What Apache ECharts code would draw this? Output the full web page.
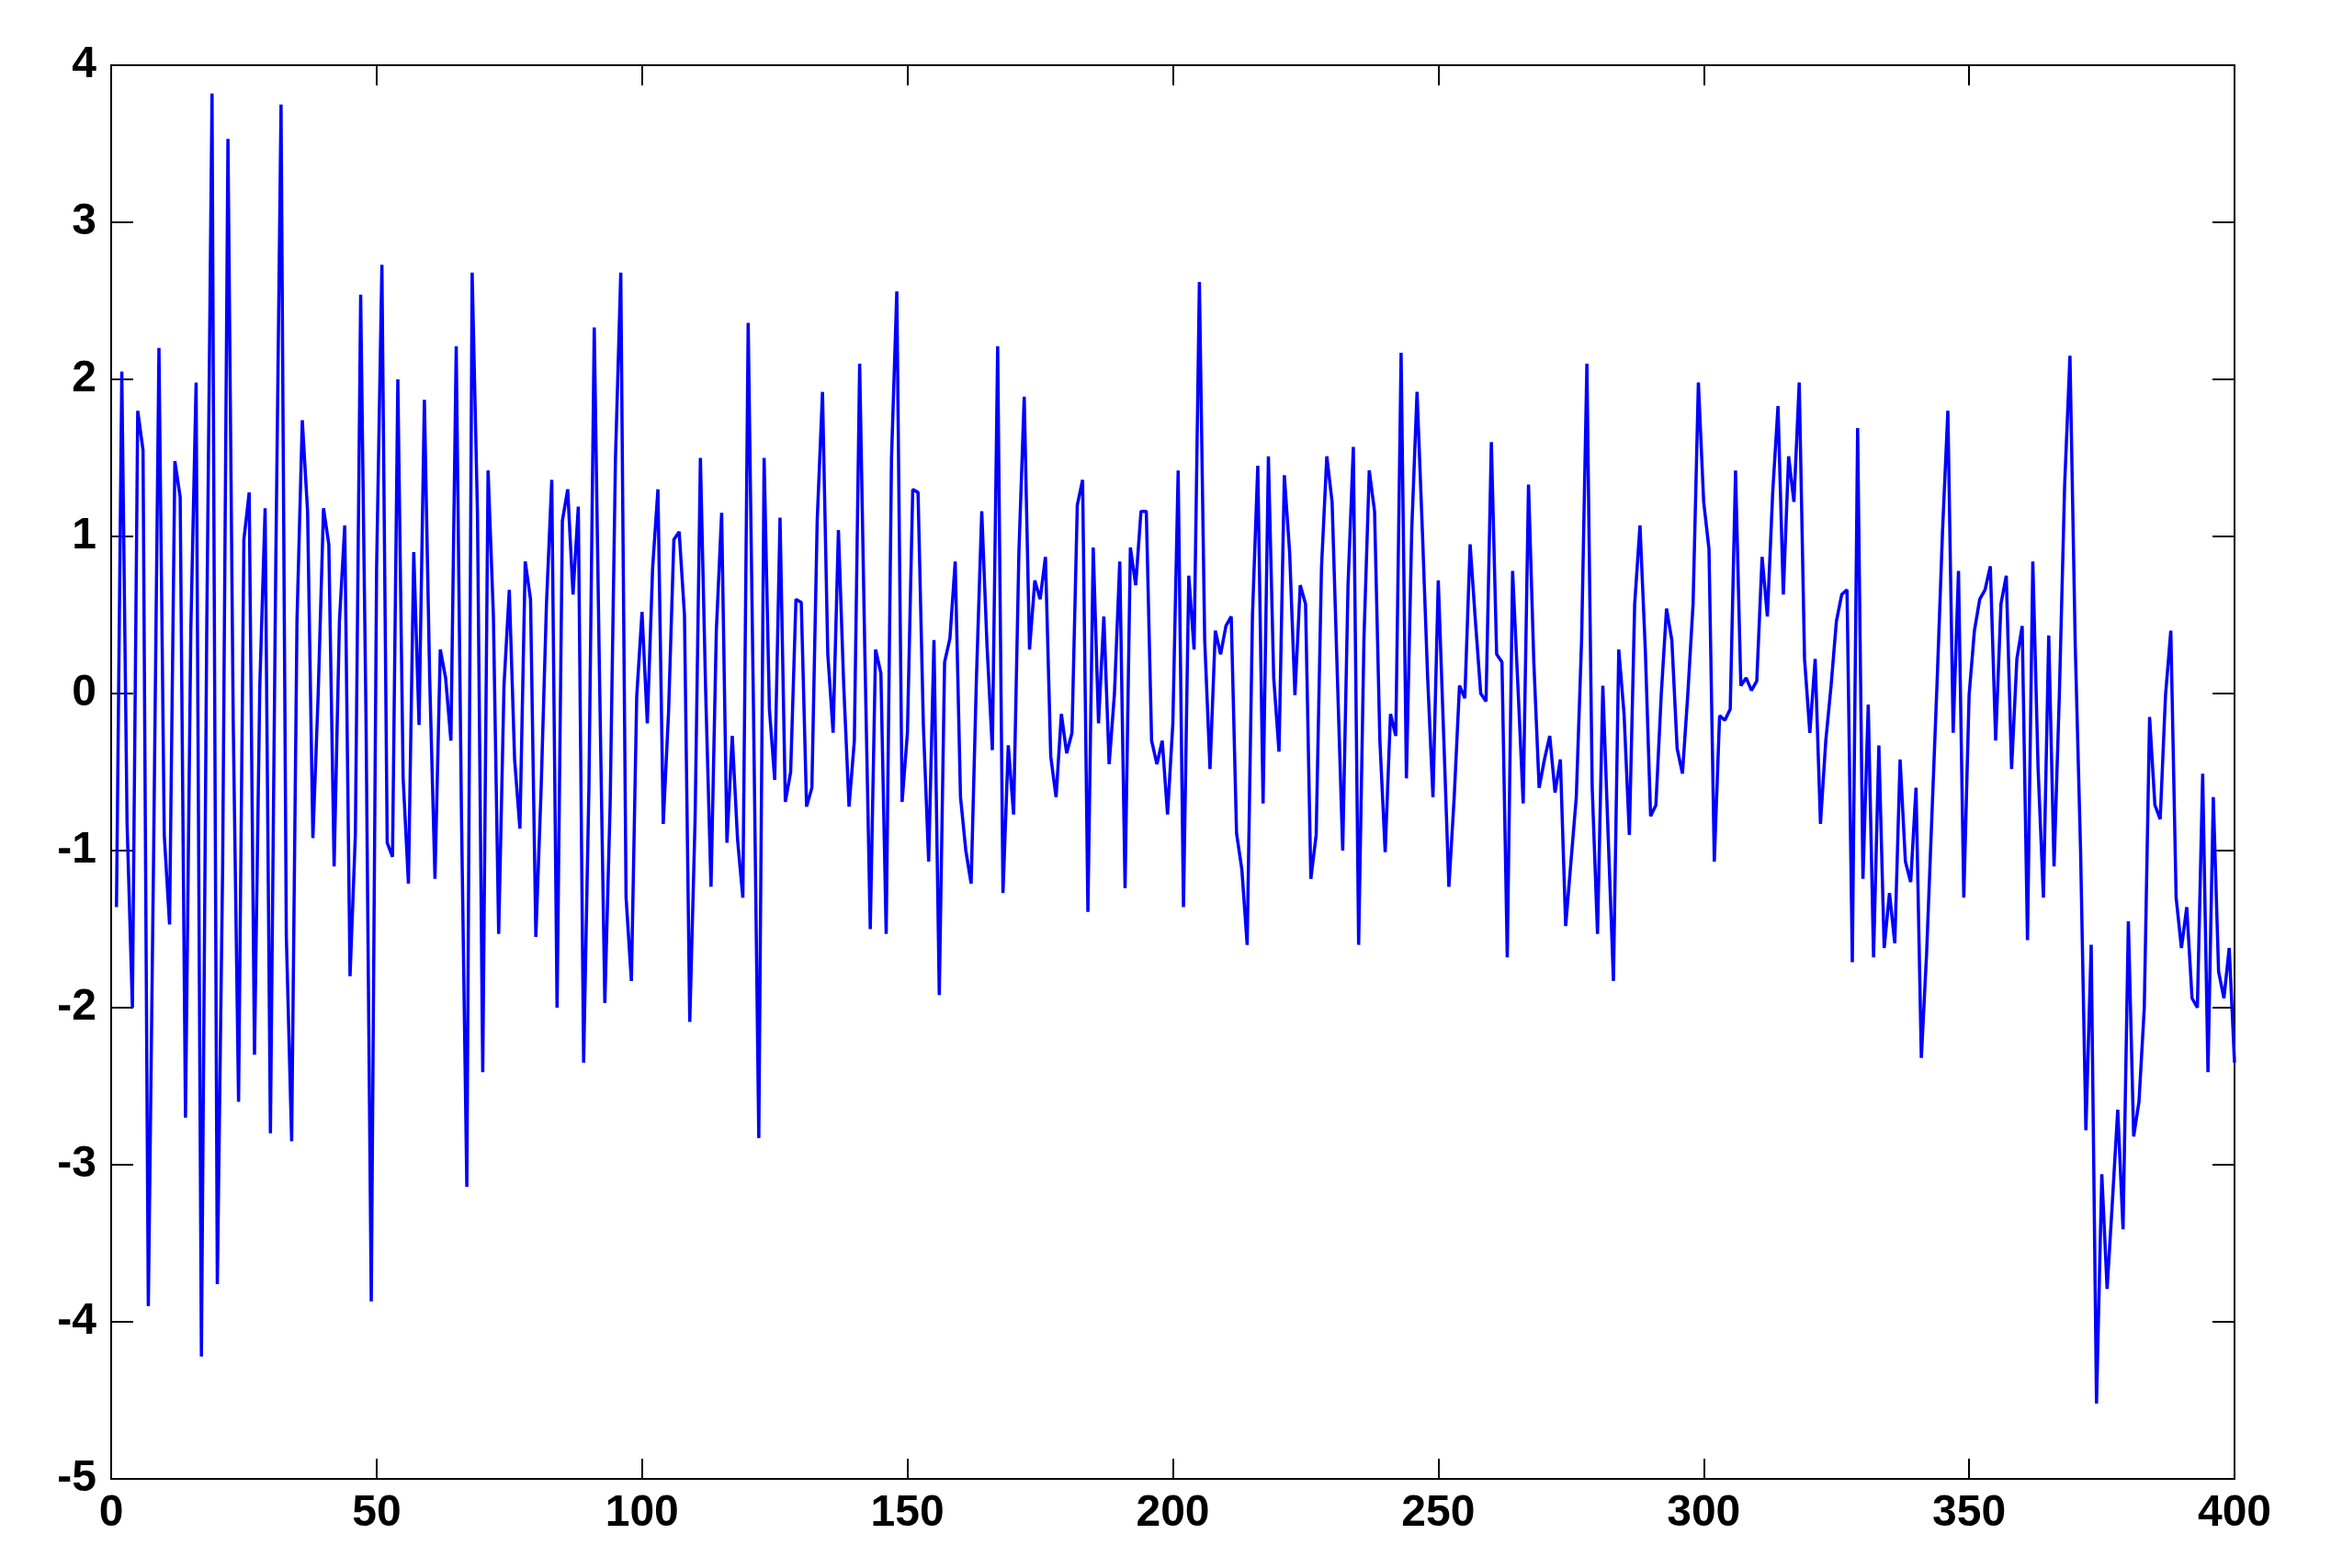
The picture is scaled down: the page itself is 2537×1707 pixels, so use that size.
<!DOCTYPE html>
<html>
<head>
<meta charset="utf-8">
<script src="https://cdn.jsdelivr.net/npm/echarts@6/dist/echarts.min.js"></script>
<style>
html,body{margin:0;padding:0;background:#fff;}
#chart{width:2537px;height:1707px;}
</style>
</head>
<body>
<div id="chart"></div>
<script>
// Series values, x = 1..400 in blocks of 50
const vals001_050 = [-1.36,2.05,-0.83,-2.0,1.8,1.55,-3.9,-1.0,2.2,-0.9,
  -1.47,1.48,1.25,-2.7,0.4,1.98,-4.22,0.4,3.82,-3.76,
  -1.1,3.53,-0.2,-2.6,0.98,1.28,-2.3,0.05,1.18,-2.8,
  0.8,3.75,-1.55,-2.85,0.46,1.74,1.16,-0.92,0.0,1.18,
  0.95,-1.1,0.46,1.07,-1.8,-0.9,2.54,-0.13,-3.87,0.8];
const vals051_100 = [2.73,-0.95,-1.04,2.0,-0.54,-1.21,0.9,-0.2,1.87,0.1,
  -1.18,0.28,0.1,-0.3,2.21,-0.8,-3.14,2.68,1.16,-2.41,
  1.42,0.5,-1.53,0.05,0.66,-0.42,-0.86,0.84,0.6,-1.55,
  -0.6,0.57,1.36,-2.0,1.1,1.3,0.63,1.19,-2.35,-0.6,
  2.33,0.1,-1.97,-0.7,1.5,2.68,-1.3,-1.83,-0.02,0.52];
const vals101_150 = [-0.19,0.8,1.3,-0.83,-0.12,0.98,1.03,0.5,-2.09,-0.8,
  1.5,0.0,-1.23,0.4,1.15,-0.95,-0.27,-0.93,-1.3,2.36,
  -0.1,-2.83,1.5,-0.1,-0.55,1.12,-0.69,-0.5,0.6,0.58,
  -0.72,-0.6,1.1,1.92,0.25,-0.25,1.04,0.05,-0.72,-0.3,
  2.1,0.22,-1.5,0.28,0.13,-1.53,1.5,2.56,-0.69,-0.25];
const vals151_200 = [1.3,1.28,-0.2,-1.07,0.34,-1.92,0.2,0.35,0.84,-0.66,
  -1.0,-1.21,0.1,1.16,0.3,-0.36,2.21,-1.27,-0.33,-0.77,
  0.9,1.89,0.28,0.72,0.6,0.87,-0.4,-0.66,-0.13,-0.38,
  -0.25,1.2,1.36,-1.39,0.93,-0.19,0.49,-0.45,0.0,0.84,
  -1.24,0.93,0.69,1.16,1.16,-0.3,-0.45,-0.3,-0.77,-0.19];
const vals201_250 = [1.42,-1.36,0.75,0.28,2.62,0.34,-0.48,0.4,0.25,0.43,
  0.49,-0.89,-1.12,-1.6,0.5,1.45,-0.7,1.51,0.1,-0.37,
  1.39,0.9,-0.01,0.69,0.57,-1.18,-0.9,0.8,1.51,1.22,
  0.1,-1.0,0.69,1.57,-1.6,0.35,1.42,1.16,-0.3,-1.01,
  -0.13,-0.27,2.17,-0.54,1.04,1.92,1.04,0.1,-0.66,0.72];
const vals251_300 = [-0.25,-1.23,-0.66,0.05,-0.03,0.95,0.46,0.0,-0.05,1.6,
  0.25,0.2,-1.68,0.78,0.05,-0.7,1.33,0.2,-0.6,-0.42,
  -0.27,-0.63,-0.42,-1.48,-1.07,-0.66,0.34,2.1,-0.6,-1.53,
  0.05,-0.9,-1.83,0.28,-0.13,-0.9,0.57,1.07,0.28,-0.78,
  -0.71,-0.01,0.54,0.34,-0.35,-0.51,-0.01,0.57,1.98,1.22];
const vals301_350 = [0.92,-1.07,-0.14,-0.17,-0.1,1.42,0.05,0.1,0.02,0.08,
  0.87,0.49,1.28,1.83,0.63,1.51,1.22,1.98,0.22,-0.25,
  0.22,-0.83,-0.3,0.05,0.46,0.63,0.66,-1.71,1.69,-1.18,
  -0.07,-1.68,-0.33,-1.62,-1.27,-1.59,-0.42,-1.07,-1.2,-0.6,
  -2.32,-1.65,-0.77,0.1,1.04,1.8,-0.25,0.78,-1.3,-0.01];
const vals351_400 = [0.4,0.6,0.66,0.81,-0.3,0.57,0.75,-0.48,0.22,0.43,
  -1.57,0.84,-0.48,-1.3,0.37,-1.1,-0.01,1.33,2.15,0.3,
  -1.0,-2.78,-1.6,-4.52,-3.06,-3.79,-3.23,-2.65,-3.41,-1.45,
  -2.82,-2.6,-2.0,-0.15,-0.71,-0.8,-0.01,0.4,-1.3,-1.62,
  -1.36,-1.94,-2.0,-0.51,-2.41,-0.66,-1.77,-1.94,-1.62,-2.35];

// Axis ticks
const xTicks = [0,50,100,150,200,250,300,350,400];
const yTicks = [-5,-4,-3,-2,-1,0,1,2,3,4];

const values = [].concat(vals001_050, vals051_100, vals101_150, vals151_200,
  vals201_250, vals251_300, vals301_350, vals351_400);
const seriesData = values.map((v, i) => [i + 1, v]);

const labelFont = {fontFamily: 'Liberation Sans, Arial, sans-serif', fontSize: 48, fontWeight: 'bold', color: '#000'};
const axisLine = {show: true, onZero: false, lineStyle: {color: '#000', width: 2}};
const tickX = {show: true, inside: true, length: 22, lineStyle: {color: '#000', width: 2}};
const tickY = {show: true, inside: true, length: 24, lineStyle: {color: '#000', width: 2}};

const chart = echarts.init(document.getElementById('chart'), null, {renderer: 'canvas'});
chart.setOption({
  animation: false,
  backgroundColor: '#fff',
  grid: {left: 121, right: 105, top: 71, bottom: 97, show: false},
  xAxis: [
    {type: 'value', min: xTicks[0], max: xTicks[xTicks.length - 1], interval: 50, position: 'bottom',
     axisLine: axisLine, axisTick: tickX,
     axisLabel: Object.assign({margin: 14}, labelFont), splitLine: {show: false}},
    {type: 'value', min: xTicks[0], max: xTicks[xTicks.length - 1], interval: 50, position: 'top',
     axisLine: axisLine, axisTick: tickX,
     axisLabel: {show: false}, splitLine: {show: false}}
  ],
  yAxis: [
    {type: 'value', min: yTicks[0], max: yTicks[yTicks.length - 1], interval: 1, position: 'left',
     axisLine: axisLine, axisTick: tickY,
     axisLabel: Object.assign({margin: 16}, labelFont), splitLine: {show: false}},
    {type: 'value', min: yTicks[0], max: yTicks[yTicks.length - 1], interval: 1, position: 'right',
     axisLine: axisLine, axisTick: tickY,
     axisLabel: {show: false}, splitLine: {show: false}}
  ],
  series: [{
    type: 'line', xAxisIndex: 0, yAxisIndex: 0, data: seriesData,
    showSymbol: false, symbol: 'none', smooth: false,
    lineStyle: {color: '#0000ff', width: 3.5}
  }]
});
</script>
</body>
</html>
